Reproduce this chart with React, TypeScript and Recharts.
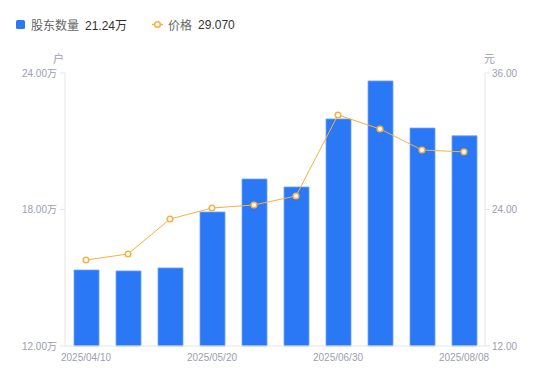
import { Bar, ComposedChart, Label, Line, XAxis, YAxis } from "recharts"

const dates = [
  "2025/04/10", "2025/04/20", "2025/04/30", "2025/05/20", "2025/05/31",
  "2025/06/10", "2025/06/30", "2025/07/10", "2025/07/31", "2025/08/08",
]
const holders = [15.34, 15.3, 15.43, 17.89, 19.34, 18.99, 21.98, 23.65, 21.58, 21.24]
const prices = [19.56, 20.09, 23.16, 24.13, 24.4, 25.19, 32.31, 31.08, 29.23, 29.07]
const leftTicks = [12, 18, 24]
const rightTicks = [12, 24, 36]

const FONT = '"Liberation Sans", "Noto Sans CJK SC", sans-serif'
const BLUE = "#2a78f5"
const ORANGE = "#f9b03e"
const AXIS = "#e4e5eb"
const TICK = "#9c9eb2"

const data = dates.map((d, i) => ({ date: d, holders: holders[i], price: prices[i] }))

function LegendBar() {
  return (
    <div style={{ position: "absolute", left: 16, top: 16, display: "flex", alignItems: "center", fontFamily: FONT, fontSize: 12 }}>
      <span style={{ width: 9, height: 9, background: BLUE, borderRadius: 1.5, display: "inline-block" }} />
      <span style={{ color: "#666", marginLeft: 6 }}>股东数量</span>
      <span style={{ color: "#333", marginLeft: 6 }}>21.24万</span>
      <svg width={11} height={9} style={{ marginLeft: 25 }}>
        <line x1={0} y1={4.5} x2={11} y2={4.5} stroke={ORANGE} strokeWidth={1.5} />
        <circle cx={5.5} cy={4.5} r={2.8} fill="#fff" stroke={ORANGE} strokeWidth={1.5} />
      </svg>
      <span style={{ color: "#666", marginLeft: 5 }}>价格</span>
      <span style={{ color: "#333", marginLeft: 6 }}>29.070</span>
    </div>
  )
}

export default function App() {
  return (
    <div style={{ position: "absolute", left: 0, top: 0, width: 550, height: 381, background: "#fff" }}>
      <LegendBar />
      <ComposedChart width={550} height={381} data={data} margin={{ top: 73, right: 0, left: 0, bottom: 5 }}>
        <XAxis
          dataKey="date"
          interval={2}
          tickLine={false}
          axisLine={{ stroke: AXIS }}
          tickSize={6}
          tickMargin={2}
          height={30}
          tick={{ fill: TICK, fontSize: 10, fontFamily: FONT }}
        />
        <YAxis
          yAxisId="left"
          width={65}
          domain={[12, 24]}
          ticks={leftTicks}
          tickFormatter={(v: number) => `${v.toFixed(2)}万`}
          axisLine={{ stroke: AXIS }}
          tickLine={{ stroke: AXIS }}
          tickSize={5}
          tickMargin={3}
          tick={{ fill: TICK, fontSize: 10, fontFamily: FONT }}
        >
          <Label value="户" position="top" offset={10} dx={26} fill={TICK} fontSize={11} fontFamily={FONT} />
        </YAxis>
        <YAxis
          yAxisId="right"
          orientation="right"
          width={65}
          domain={[12, 36]}
          ticks={rightTicks}
          tickFormatter={(v: number) => v.toFixed(2)}
          axisLine={{ stroke: AXIS }}
          tickLine={{ stroke: AXIS }}
          tickSize={5}
          tickMargin={2}
          tick={{ fill: TICK, fontSize: 10, fontFamily: FONT }}
        >
          <Label value="元" position="top" offset={10} dx={-28} fill={TICK} fontSize={11} fontFamily={FONT} />
        </YAxis>
        <Bar
          yAxisId="left"
          dataKey="holders"
          barSize={25}
          fill={BLUE}
          stroke="#6fa3f8"
          strokeWidth={0.8}
          isAnimationActive={false}
        />
        <Line
          yAxisId="right"
          dataKey="price"
          type="linear"
          stroke={ORANGE}
          strokeWidth={1}
          dot={{ r: 2.8, fill: "#fff", stroke: ORANGE, strokeWidth: 1.5 }}
          isAnimationActive={false}
        />
      </ComposedChart>
    </div>
  )
}
